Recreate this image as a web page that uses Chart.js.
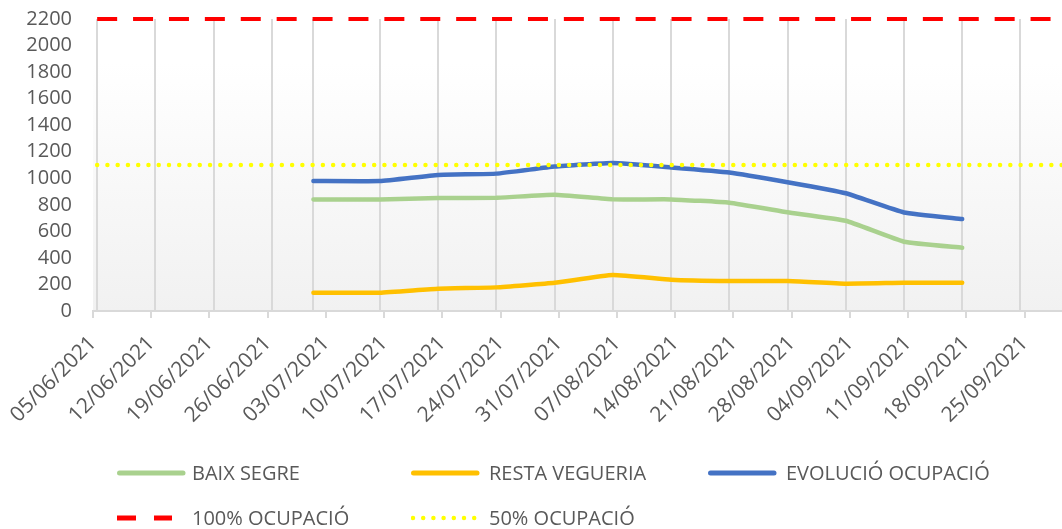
<!DOCTYPE html>
<html>
<head>
<meta charset="utf-8">
<script src="https://cdn.jsdelivr.net/npm/chart.js@4.4.1/dist/chart.umd.min.js"></script>
<style>
  html, body { margin: 0; padding: 0; background: #ffffff; }
  #wrap { position: relative; width: 1062px; height: 529px; overflow: hidden; }
  #c { position: absolute; left: 0; top: 0; }
  .leg { position: absolute; height: 28px; display: flex; align-items: center;
         font-family: 'Open Sans', sans-serif; font-size: 20px; color: #595959; white-space: nowrap; }
  .leg svg { position: absolute; left: 0; top: 8px; }
  .leg span { position: absolute; top: 0; line-height: 28px; }
</style>
</head>
<body>
<div id="wrap">
  <canvas id="c" width="1062" height="529"></canvas>
  <div id="legend"></div>
</div>
<script>
// ---------------- DATA ----------------
const tableDates = ['05/06/2021','12/06/2021','19/06/2021','26/06/2021','01/07/2021','09/07/2021',
  '16/07/2021','23/07/2021','30/07/2021','06/08/2021','13/08/2021','20/08/2021','27/08/2021',
  '03/09/2021','10/09/2021','17/09/2021','24/09/2021'];
const baixSegre     = [null, null, null, null, 841, 841, 851, 853, 876, 841, 841, 816, 744, 680, 522, 477, null];
const restaVegueria = [null, null, null, null, 138, 138, 168, 178, 213, 271, 236, 226, 226, 206, 213, 213, null];
const evolucio      = [null, null, null, null, 979, 979, 1025, 1035, 1088, 1115, 1082, 1044, 970, 887, 742, 693, null];
const ocupacio100 = 2200;
const ocupacio50  = 1100;
const tickLabels = ['05/06/2021','12/06/2021','19/06/2021','26/06/2021','03/07/2021','10/07/2021',
  '17/07/2021','24/07/2021','31/07/2021','07/08/2021','14/08/2021','21/08/2021','28/08/2021',
  '04/09/2021','11/09/2021','18/09/2021','25/09/2021'];
const axisEndDate = '29/09/2021';
const yTicks = { min: 0, max: 2200, step: 200 };
const seriesNames = ['BAIX SEGRE', 'RESTA VEGUERIA', 'EVOLUCIÓ OCUPACIÓ', '100% OCUPACIÓ', '50% OCUPACIÓ'];

// ---------------- HELPERS ----------------
const DAY = 86400000;
function utc(s) { const [d, m, y] = s.split('/').map(Number); return Date.UTC(y, m - 1, d); }
const origin = utc(tickLabels[0]);
function dayIndex(s) { return Math.round((utc(s) - origin) / DAY); }
// date axis "between tick marks": each day is a slot, value drawn at slot centre
function slotCentre(s) { return dayIndex(s) + 0.5; }
const axisMin = 0;
const axisMax = slotCentre(axisEndDate);
const labelByDay = {};
tickLabels.forEach(t => { labelByDay[dayIndex(t)] = t; });

function pts(values) { return tableDates.map((d, i) => ({ x: slotCentre(d), y: values[i] })); }
function refLine(v) { return [{ x: slotCentre(tableDates[0]), y: v }, { x: axisMax, y: v }]; }

const FONT = "'Open Sans', sans-serif";
const TXT = '#595959';
const GRID = '#d9d9d9';

const styles = [
  { color: '#A9D18E', width: 4.5 },
  { color: '#FFC000', width: 4.5 },
  { color: '#4472C4', width: 4.5 },
  { color: '#FF0000', width: 4, dash: [20, 15.9] },
  { color: '#FFFF00', width: 4.5, dash: [0, 10.26], cap: 'round' }
];

const datasets = [
  { label: seriesNames[0], data: pts(baixSegre), order: 4 },
  { label: seriesNames[1], data: pts(restaVegueria), order: 3 },
  { label: seriesNames[2], data: pts(evolucio), order: 2 },
  { label: seriesNames[3], data: refLine(ocupacio100), order: 1 },
  { label: seriesNames[4], data: refLine(ocupacio50), order: 0 }
].map((d, i) => Object.assign(d, {
  borderColor: styles[i].color,
  backgroundColor: styles[i].color,
  borderWidth: styles[i].width,
  borderDash: styles[i].dash || [],
  borderCapStyle: styles[i].cap || (styles[i].dash ? 'butt' : 'round'),
  borderJoinStyle: 'round',
  pointRadius: 0,
  pointHoverRadius: 0,
  tension: styles[i].dash ? 0 : 0.12,
  fill: false,
  spanGaps: false,
  clip: 4
}));

const plotBg = {
  id: 'plotBg',
  beforeDraw(chart) {
    const { ctx, chartArea: a } = chart;
    const g = ctx.createLinearGradient(0, a.top, 0, a.bottom);
    g.addColorStop(0, '#ffffff');
    g.addColorStop(0.15, '#ffffff');
    g.addColorStop(1, '#f1f1f1');
    ctx.save();
    ctx.fillStyle = g;
    ctx.fillRect(a.left, a.top, a.right - a.left, a.bottom - a.top);
    ctx.restore();
  }
};

new Chart(document.getElementById('c'), {
  type: 'line',
  data: { datasets },
  plugins: [plotBg],
  options: {
    responsive: false,
    animation: false,
    devicePixelRatio: 1,
    layout: { padding: { top: 19, right: 0, bottom: 0, left: 0 } },
    plugins: { legend: { display: false }, tooltip: { enabled: false } },
    scales: {
      x: {
        type: 'linear',
        position: 'bottom',
        min: axisMin,
        max: axisMax,
        afterFit: s => { s.height = 218; },
        afterBuildTicks: s => { s.ticks = tickLabels.map(t => ({ value: dayIndex(t) })); },
        ticks: {
          autoSkip: false,
          minRotation: 45,
          maxRotation: 45,
          padding: 13,
          color: TXT,
          font: { family: FONT, size: 21 },
          callback: v => labelByDay[v] || ''
        },
        grid: { drawOnChartArea: false, drawTicks: true, tickLength: 7, color: GRID, lineWidth: 2 },
        border: { display: true, color: GRID, width: 2 }
      },
      xg: {
        type: 'linear',
        position: 'bottom',
        min: axisMin,
        max: axisMax,
        afterFit: s => { s.height = 0; },
        afterBuildTicks: s => { s.ticks = tableDates.map(d => ({ value: slotCentre(d) })); },
        ticks: { display: false },
        grid: { drawOnChartArea: true, drawTicks: false, color: GRID, lineWidth: 2 },
        border: { display: false }
      },
      y: {
        min: yTicks.min,
        max: yTicks.max,
        afterFit: s => { s.width = 93; },
        ticks: { stepSize: yTicks.step, autoSkip: false, padding: 0, color: TXT,
                 font: { family: FONT, size: 20 }, callback: v => String(v) },
        grid: { display: false, drawTicks: true, tickLength: 21 },
        border: { display: false }
      }
    }
  }
});

// ---------------- LEGEND (HTML, from datasets) ----------------
const legendCols = [117, 411, 708];
const legendRows = [459, 504];
const legend = document.getElementById('legend');
datasets.forEach((d, i) => {
  const row = i < 3 ? 0 : 1;
  const col = i < 3 ? i : i - 3;
  const item = document.createElement('div');
  item.className = 'leg';
  item.style.left = legendCols[col] + 'px';
  item.style.top = legendRows[row] + 'px';
  const st = styles[i];
  let line;
  if (!st.dash) {
    line = `<line x1="2.5" y1="6" x2="66" y2="6" stroke="${st.color}" stroke-width="${st.width + 0.5}" stroke-linecap="round"/>`;
  } else if (st.cap === 'round') {
    line = `<line x1="2" y1="6" x2="67" y2="6" stroke="${st.color}" stroke-width="${st.width}" stroke-linecap="round" stroke-dasharray="0 10.2"/>`;
  } else {
    line = `<line x1="0" y1="6" x2="55" y2="6" stroke="${st.color}" stroke-width="${st.width + 1}" stroke-dasharray="19 18"/>`;
  }
  item.innerHTML = `<svg width="72" height="12">${line}</svg><span style="left:${col === 0 ? 75 : 78}px">${d.label}</span>`;
  legend.appendChild(item);
});
</script>
</body>
</html>
